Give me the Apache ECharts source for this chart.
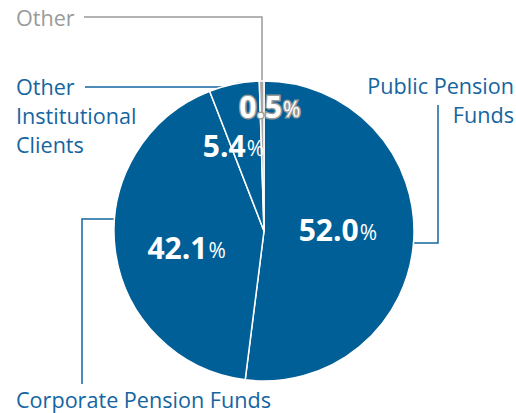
<!DOCTYPE html>
<html><head><meta charset="utf-8">
<script src="https://cdn.jsdelivr.net/npm/echarts@6/dist/echarts.min.js"></script>
<style>html,body{margin:0;padding:0;background:#fff}#c{width:516px;height:413px}</style>
</head><body><div id="c"></div>
<script>
const categories = ['Public Pension Funds', 'Corporate Pension Funds', 'Other Institutional Clients', 'Other'];
const values = [52.0, 42.1, 5.4, 0.5];
const sliceColors = ['#005f97', '#005f97', '#005f97', '#a7a7a7'];
const labelOffsets = [[-4, -6], [0, 7], [-15, -9], [7, -47]];

const blue = '#1565a0';
const grey = '#9a9a9a';
const font = '"Open Sans", Lato, sans-serif';
const chart = echarts.init(document.getElementById('c'), null, {renderer: 'svg'});

function txt(x, y, text, color, align) {
  return {type: 'text', x: x, y: y, style: {text: text, fill: color, font: '21.6px ' + font, align: align || 'left', verticalAlign: 'top', lineHeight: 29}};
}
function line(points, color) {
  return {type: 'polyline', shape: {points: points}, style: {stroke: color, lineWidth: 1.5, fill: null}};
}

chart.setOption({
  animation: false,
  series: [{
    type: 'pie',
    center: [264, 231],
    radius: [0, 150],
    startAngle: 90,
    clockwise: true,
    data: categories.map((n, i) => ({
      name: n, value: values[i],
      itemStyle: {color: sliceColors[i]},
      label: i === 3 ? {rich: {v: {textBorderColor: '#9a9a9a', textBorderWidth: 3}, p: {textBorderColor: '#9a9a9a', textBorderWidth: 3}}} : {}
    })),
    itemStyle: {borderColor: '#fff', borderWidth: 1.5},
    label: {
      show: true,
      position: 'inside',
      formatter: p => '{v|' + p.value.toFixed(1) + '}{p|%}',
      rich: {
        v: {color: '#fff', fontFamily: font, fontWeight: 'bold', fontSize: 30},
        p: {color: '#fff', fontFamily: font, fontWeight: 'normal', fontSize: 21, padding: [5, 0, 0, 1]}
      }
    },
    labelLine: {show: false},
    labelLayout: p => ({dx: labelOffsets[p.dataIndex][0], dy: labelOffsets[p.dataIndex][1]}),
    emphasis: {disabled: true}
  }],
  graphic: [
    txt(16, 3, categories[3], grey),
    line([[84, 17], [262, 17], [262, 86]], grey),
    txt(16, 72, 'Other\nInstitutional\nClients', blue),
    line([[85, 87], [224, 87]], blue),
    txt(514, 71, 'Public Pension\nFunds', blue, 'right'),
    line([[438, 105], [438, 243], [412, 243]], blue),
    txt(16, 385, categories[1], blue),
    line([[82, 384], [82, 219], [115, 219]], blue)
  ]
});
</script></body></html>
